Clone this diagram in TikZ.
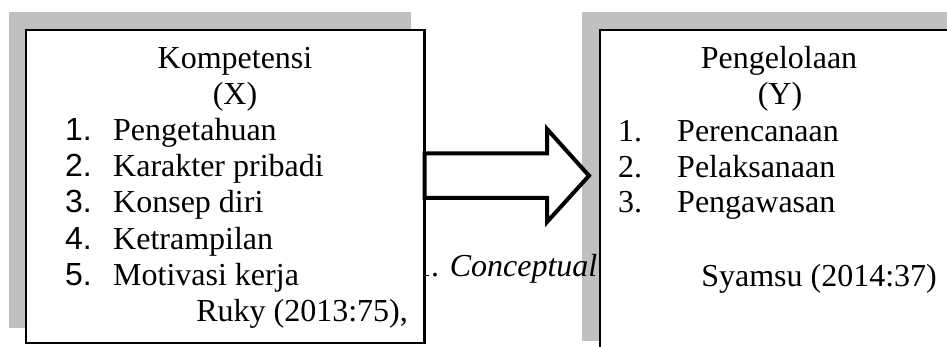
\documentclass[tikz,border=0pt]{standalone}
\usepackage{fontspec}
\setmainfont{Liberation Serif}
\newfontfamily\angka{Liberation Sans}
\usepackage{tikz}
\usetikzlibrary{positioning}
\definecolor{abu}{RGB}{192,192,192}

\begin{document}
\begin{tikzpicture}[x=1pt, y=1pt, font=\fontsize{32}{36}\selectfont,
                        bayangan/.style={fill=abu, draw=none},
                        kotak/.style={fill=white, draw=black, line width=2.2pt},
                        teks/.style={inner sep=0pt, anchor=base},
                        kiri/.style={inner sep=0pt, anchor=base west},
                        kanan/.style={inner sep=0pt, anchor=base east},
                        panah/.style={draw=black, fill=white, line width=4pt, line join=miter}
                        ]
    \useasboundingbox (0,0) rectangle (947,347);
    \clip (0,0) rectangle (947,347);
    % bayangan kedua kotak
    \fill[bayangan] (9,19) rectangle (411,335);
    \fill[bayangan] (582,6) rectangle (960,335);
    \node (judul) [kanan] at (597.5,70) {1. \textit{Conceptual}};
    % kotak X dan Y
    \draw[kotak] (26,4) rectangle (424.5,317);
    \draw[kotak] (600,-20) rectangle (970,317);
    \coordinate (X) at (424.5,171);
    \coordinate (Y) at (600,171);
    % panah blok
    \draw[panah] (X |- 0,193.5) -- (547,193.5) -- (547,218) -- (589,171.3)
        -- (547,125) -- (547,149) -- (X |- 0,149) -- cycle;
    %\node (P) [single arrow, draw] at (507,171) {};
    \node (Kom) [teks] at (235,278) {Kompetensi};
    \node (VX) [teks] at (235,242.5) {(X)};
    \node (n1) [kiri] at (65,206) {\angka 1.};
    \node (n2) [kiri] at (65,170) {\angka 2.};
    \node (n3) [kiri] at (65,134) {\angka 3.};
    \node (n4) [kiri] at (65,97) {\angka 4.};
    \node (n5) [kiri] at (65,61) {\angka 5.};
    \node (x1) [kiri] at (113,206) {Pengetahuan};
    \node (x2) [kiri] at (113,170) {Karakter pribadi};
    \node (x3) [kiri] at (113,134) {Konsep diri};
    \node (x4) [kiri] at (113,97) {Ketrampilan};
    \node (x5) [kiri] at (113,61) {Motivasi kerja};
    \node (Ruky) [kanan] at (408,25) {Ruky (2013:75),};
    \node (Pen) [teks] at (779,278) {Pengelolaan};
    \node (VY) [teks] at (780,242.5) {(Y)};
    \node (m1) [kiri] at (618,205) {1.};
    \node (m2) [kiri] at (618,169) {2.};
    \node (m3) [kiri] at (618,134) {3.};
    \node (y1) [kiri] at (677,205) {Perencanaan};
    \node (y2) [kiri] at (677,169) {Pelaksanaan};
    \node (y3) [kiri] at (677,134) {Pengawasan};
    \node (Sya) [kanan] at (937,60) {Syamsu (2014:37)};
\end{tikzpicture}
\end{document}
